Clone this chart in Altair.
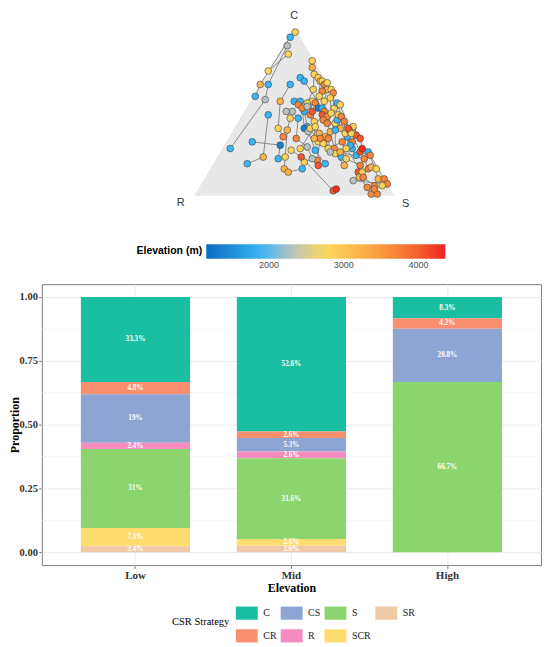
import altair as alt
import pandas as pd

# ---------------- Ternary data: C and S in %, R = 100 - C - S ----------------
tern_id = [i for i in range(1, 151) if i != 107]
tern_C = [97, 94, 89, 84, 74, 66, 66, 59, 57, 48,
          28, 32, 19, 23, 30, 22, 23, 27, 16, 14,
          20, 16, 66, 70, 68, 56, 46, 50, 50, 46,
          56, 56, 54, 40, 39, 35, 34, 41, 40, 38,
          40, 29, 27, 32, 37, 35, 31, 34, 38, 43,
          45, 40, 19, 21, 18, 22, 28, 25, 23, 18,
          22, 28, 32, 35, 40, 36, 34, 41, 30, 24,
          26, 28, 26, 24, 22, 18, 14, 14, 16, 17,
          16, 11, 11, 10, 10, 7, 6, 5, 1, 1,
          9, 3, 4, 4, 6, 80, 76, 72, 70, 68,
          68, 66, 67, 63, 63, 61,
          58, 62, 59,
          63, 56, 55, 55, 52, 52, 56, 50, 48, 47,
          45, 43, 52, 55, 54, 48, 47, 49, 39, 44,
          48, 50, 44, 50, 52, 53, 41, 34, 34, 28,
          23, 28, 26, 26, 32, 37, 39, 37, 28, 40]
tern_S = [2, 1, 2, 5, 0, 0, 4, 1, 7, 13,
          4, 13, 17, 23, 28, 31, 34, 35, 37, 40,
          45, 46, 15, 18, 21, 15, 25, 24, 21, 29,
          22, 25, 25, 22, 27, 27, 34, 36, 35, 38,
          38, 42, 47, 46, 44, 48, 49, 50, 49, 49,
          49, 53, 56, 51, 53, 48, 56, 58, 62, 66,
          65, 65, 63, 59, 59, 63, 66, 59, 63, 69,
          70, 70, 74, 76, 74, 74, 75, 77, 79, 80,
          83, 77, 79, 87, 90, 93, 87, 84, 88, 91,
          75, 68, 69, 88, 91, 19, 21, 24, 27, 29,
          30, 32, 33, 35, 37, 39,
          39, 33, 33,
          28, 31, 33, 29, 36, 38, 37, 40, 40, 43,
          42, 45, 44, 44, 46, 48, 50, 44, 51, 53,
          34, 34, 38, 30, 28, 30, 40, 46, 43, 39,
          42, 53, 55, 60, 58, 57, 58, 60, 62, 57]
tern_elev = [2800, 1900, 2300, 2800, 2800, 3250, 1900, 1900, 2300, 1900,
             1900, 1900, 1900, 3250, 1350, 1900, 2800, 2800, 3250, 3250,
             2800, 1900, 1900, 1900, 1900, 3250, 2800, 2300, 2300, 1900,
             1900, 1900, 3700, 2800, 3250, 3700, 3700, 1900, 1350, 2300,
             2800, 2300, 1900, 2800, 3250, 3250, 2800, 3700, 3250, 2800,
             1900, 3250, 1900, 3700, 4050, 2300, 3700, 2800, 1900, 3250,
             2800, 1900, 3700, 1900, 3700, 4050, 4050, 2800, 1900, 1900,
             4050, 4300, 1900, 3700, 3700, 3700, 4050, 2800, 3700, 3250,
             2800, 3250, 3700, 3250, 3700, 3700, 3700, 3700, 3700, 3700,
             2300, 4050, 4300, 3700, 2800, 2800, 3250, 2800, 2800, 3250,
             2800, 3700, 2800, 3250, 2800, 3700,
             2800, 3700, 2800,
             2800, 2800, 3700, 2800, 1350, 1900, 2800, 3700, 4050, 3700,
             3700, 3700, 2800, 1900, 2800, 2800, 3700, 2800, 1900, 3700,
             3700, 4050, 2800, 1900, 3700, 2300, 2800, 3700, 3250, 2800,
             4050, 2800, 2300, 3250, 3700, 2800, 3700, 2800, 2800, 4050]
# connected points (ids, in path order)
tern_paths = [
    [1, 2, 6, 8], [3, 7, 9, 11], [4, 5], [10, 14, 13], [12, 15, 16],
    [23, 26, 34, 36], [29, 27, 35, 17, 19], [28, 30, 37, 42, 56, 21],
    [31, 135, 39, 40, 43, 53], [96, 98, 111, 114, 134, 38, 45],
    [97, 100, 110, 112, 131, 137, 139], [99, 102, 109, 113, 132, 133, 138, 54, 55],
    [101, 104, 117, 118, 121, 122, 49, 57, 59], [105, 106, 123, 126, 52, 62, 70],
    [108, 128, 120, 129, 58, 60], [124, 127, 130, 146, 63, 66],
    [125, 147, 148, 71, 74, 84], [50, 51, 65, 68, 67, 72, 73, 85],
    [41, 44, 47, 48, 143, 144, 75, 79, 81], [18, 141, 92, 93],
    [46, 142, 145, 61, 76, 77, 82, 88, 89], [64, 69, 149, 78, 83, 87, 90],
    [22, 20], [91, 86, 95, 94], [25, 116, 115, 119, 140], [32, 33, 136],
]
corner_names = ["R", "C", "S"]
corner_C = [0, 100, 0]
corner_S = [0, 0, 100]

elev_domain = [1160, 1900, 2300, 2750, 3250, 3700, 4050, 4360]
elev_colors = ["#0b6cbf", "#39b6f7", "#b9c2c0", "#fcd85a", "#fbb249",
               "#f7853a", "#f3572b", "#ec2420"]
elev_ticks = [2000, 3000, 4000]

# ---------------- Bar data ----------------
levels = ["Low", "Mid", "High"]
strategies = ["C", "CR", "CS", "R", "S", "SCR", "SR"]
stack_rank = [6, 5, 4, 3, 2, 1, 0]  # first level on top
pct_low = [33.3, 4.8, 19, 2.4, 31, 7.1, 2.4]
pct_mid = [52.6, 2.6, 5.3, 2.6, 31.6, 2.6, 2.6]
pct_high = [8.3, 4.2, 20.8, 0, 66.7, 0, 0]
legend_order = ["C", "CS", "S", "SR", "CR", "R", "SCR"]
legend_colors = ["#1abfa3", "#8ca5d3", "#8cd46d", "#efcaa6",
                 "#fa8f6f", "#f58cc0", "#fedd70"]
y_ticks = [0, 0.25, 0.5, 0.75, 1.0]
y_minor = [0.125, 0.375, 0.625, 0.875]

# ---------------- build tables ----------------
pts = pd.DataFrame({"id": tern_id, "C": tern_C, "S": tern_S, "elev": tern_elev})
rows = []
for g, chain in enumerate(tern_paths):
    for k, pid in enumerate(chain):
        i = tern_id.index(pid)
        rows.append({"grp": g, "step": k, "C": tern_C[i], "S": tern_S[i]})
paths = pd.DataFrame(rows)
corners = pd.DataFrame({"name": corner_names, "C": corner_C, "S": corner_S})

brow = []
for lev, vals in zip(levels, [pct_low, pct_mid, pct_high]):
    for s, r, v in zip(strategies, stack_rank, vals):
        if v > 0:
            brow.append({"level": lev, "strategy": s, "rank": r, "pct": v})
bars_df = pd.DataFrame(brow)

# ---------------- Ternary panel ----------------
W = 501
xs = alt.Scale(domain=[-76.2, 173.4], nice=False, zero=False)
ys = alt.Scale(domain=[-8.09, 110.04], nice=False, zero=False)
TX = alt.X("tx:Q", scale=xs, axis=None)
TY = alt.Y("ty:Q", scale=ys, axis=None)
calc = dict(tx="datum.S + datum.C / 2", ty="datum.C")

tri = alt.Chart(corners).transform_calculate(**calc).mark_area(
    color="#e8e8e8").encode(x=TX, y=TY, y2=alt.datum(0))

lines = alt.Chart(paths).transform_calculate(**calc).mark_line(
    color="#727272", strokeWidth=0.8).encode(
    x=TX, y=TY, detail="grp:N", order="step:Q")

points = alt.Chart(pts).transform_calculate(**calc).mark_circle(
    size=46, stroke="#3f3f3f", strokeWidth=0.6, opacity=1).encode(
    x=TX, y=TY,
    color=alt.Color("elev:Q",
                    scale=alt.Scale(domain=elev_domain, range=elev_colors,
                                    interpolate="rgb"),
                    legend=alt.Legend(
                        title="Elevation (m)", orient="none", legendX=95, legendY=235,
                        direction="horizontal", gradientLength=240,
                        gradientThickness=14.5, gradientStrokeWidth=0,
                        titleOrient="left", titleAnchor="middle",
                        titleFont="Liberation Sans", titleFontSize=10.5,
                        titleFontWeight="bold", titleColor="#000000", titlePadding=4,
                        labelFont="Liberation Sans", labelFontSize=9,
                        labelColor="#4d4d4d", values=elev_ticks, format="d")))

def corner_label(name, dx, dy):
    return alt.Chart(corners).transform_filter(
        alt.datum.name == name).transform_calculate(**calc).mark_text(
        font="Liberation Sans", fontSize=11, color="#333333", dx=dx, dy=dy,
        baseline="middle").encode(x=TX, y=TY, text="name:N")

ternary = alt.layer(
    tri, lines, points,
    corner_label("C", 0, -11), corner_label("R", -13.5, 7.5),
    corner_label("S", 11.5, 8.5)
).properties(width=W, height=200, view=alt.ViewBackground(stroke="transparent"))

# ---------------- Bar panel ----------------
yscale = alt.Scale(domain=[-0.05, 1.05], nice=False, zero=False)
yaxis = alt.Axis(values=y_ticks, format=".2f", title="Proportion",
                 labelFont="Liberation Serif", labelFontWeight="bold",
                 labelFontSize=10.5, labelColor="#333333", labelPadding=1,
                 titleFont="Liberation Serif", titleFontWeight="bold",
                 titleFontSize=12, titleColor="#000000",
                 titleX=-27.5, titleBaseline="middle",
                 domain=False, tickColor="#7f7f7f", tickSize=3.5,
                 grid=True, gridColor="#ebebeb")
xaxis = alt.Axis(title="Elevation", labelAngle=0,
                 labelFont="Liberation Serif", labelFontWeight="bold",
                 labelFontSize=11, labelColor="#333333", labelPadding=1,
                 titleFont="Liberation Serif", titleFontWeight="bold",
                 titleFontSize=12, titleColor="#000000", titlePadding=1.5,
                 domain=False, tickColor="#7f7f7f", tickSize=3.5,
                 grid=True, gridColor="#ebebeb")
xenc = alt.X("level:N", sort=levels, axis=xaxis,
             scale=alt.Scale(paddingInner=0.3, paddingOuter=0.25))

minor = alt.Chart(pd.DataFrame({"v": y_minor})).mark_rule(
    color="#f4f4f4", strokeWidth=0.6).encode(
    y=alt.Y("v:Q", scale=yscale, axis=yaxis))

base = alt.Chart(bars_df).transform_stack(
    stack="pct", groupby=["level"], as_=["y0", "y1"], offset="normalize",
    sort=[alt.SortField(field="rank", order="ascending")]
).transform_calculate(ymid="(datum.y0 + datum.y1) / 2",
                      label="datum.pct + '%'")

bars = base.mark_bar().encode(
    x=xenc,
    y=alt.Y("y0:Q", scale=yscale, axis=yaxis),
    y2="y1:Q",
    fill=alt.Fill("strategy:N",
                  scale=alt.Scale(domain=legend_order, range=legend_colors),
                  legend=alt.Legend(
                      title="CSR Strategy", orient="none", legendX=130.7, legendY=319,
                      direction="horizontal", columns=4,
                      symbolType="M-1,-0.6H1V0.6H-1Z", symbolSize=484,
                      symbolStrokeWidth=0, symbolOpacity=1,
                      titleOrient="left", titleAnchor="middle",
                      titleFont="Liberation Serif", titleFontSize=10.5,
                      titleFontWeight="normal", titleColor="#000000", titlePadding=6,
                      labelFont="Liberation Serif", labelFontSize=10,
                      labelColor="#1a1a1a", labelOffset=5.5,
                      rowPadding=5, columnPadding=4)))

labels = base.mark_text(font="Liberation Serif", fontSize=7.2, fontWeight="bold",
                        color="white", baseline="middle").encode(
    x=xenc, y=alt.Y("ymid:Q", scale=yscale, axis=yaxis), text="label:N")

barpanel = alt.layer(minor, bars, labels).properties(width=W, height=282)

chart = alt.vconcat(ternary, barpanel, spacing=75, bounds="flush").resolve_scale(
    color="independent", fill="independent").resolve_legend(
    color="independent", fill="independent").properties(
    padding={"left": 0, "top": 0, "right": 0, "bottom": 0}
).configure_view(stroke="#7f7f7f", strokeWidth=1)

chart.save("out.html", embed_options={"renderer": "svg", "actions": False})
